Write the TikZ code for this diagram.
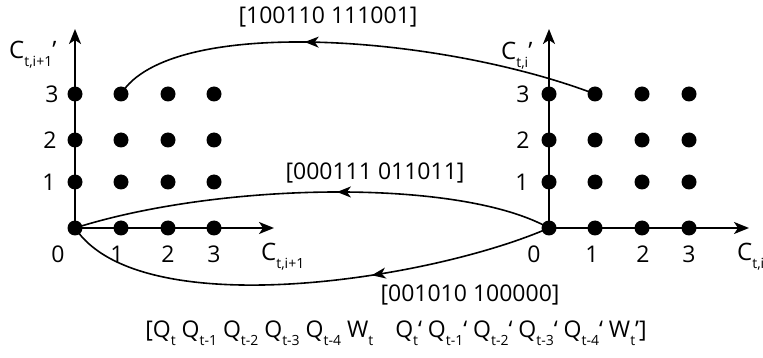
\documentclass[tikz,border=0pt]{standalone}
\usepackage{fontspec}
\setmainfont{Open Sans}
\usetikzlibrary{arrows.meta,decorations.markings}

% lowered small index used in the variable names
\newcommand\lo[1]{\raisebox{-7.5pt}{\fontsize{14}{14}\selectfont #1}}

\begin{document}
\begin{tikzpicture}[x=1pt,y=-1pt,
  dot/.style={circle,fill=black,inner sep=0pt,minimum size=15pt},
  axis/.style={line width=2pt,-{Stealth[length=15pt,width=12pt,inset=4pt]}},
  conn/.style={line width=1.6pt},
  midarrow/.style={postaction={decorate},
    decoration={markings,mark=at position #1 with {\arrow{Stealth[length=14pt,width=11pt,inset=4pt]}}}},
  tick/.style={font=\fontsize{23}{23}\selectfont},
  code/.style={font=\fontsize{23}{23}\selectfont},
  lbl/.style={font=\fontsize{24}{24}\selectfont,anchor=base west,inner sep=0pt},
  ]
\useasboundingbox (0,0) rectangle (763,358);

% lattice points of both grids
\foreach \i/\x in {0/75,1/121,2/168,3/214}
  \foreach \j/\y in {0/228,1/182,2/140,3/94}
    \node[dot] (L\i\j) at (\x,\y) {};
\foreach \i/\x in {0/549,1/595,2/642,3/689}
  \foreach \j/\y in {0/228,1/182,2/140,3/94}
    \node[dot] (R\i\j) at (\x,\y) {};

% axis ends
\coordinate (LYtop) at (75,29);
\coordinate (LXend) at (274,228);
\coordinate (RYtop) at (549,29);
\coordinate (RXend) at (749,228);

\draw[axis] (L00.center) -- (LYtop);
\draw[axis] (L00.center) -- (LXend);
\draw[axis] (R00.center) -- (RYtop);
\draw[axis] (R00.center) -- (RXend);

% tick labels
\node[tick] (lt3) at (52,94) {3};
\node[tick] (lt2) at (50,140) {2};
\node[tick] (lt1) at (49,182) {1};
\node[tick] (lb0) at (58,254) {0};
\node[tick] (lb1) at (117,254) {1};
\node[tick] (lb2) at (168,254) {2};
\node[tick] (lb3) at (214,254) {3};
\node[tick] (rt3) at (523,94) {3};
\node[tick] (rt2) at (523,140) {2};
\node[tick] (rt1) at (522,182) {1};
\node[tick] (rb0) at (534,254) {0};
\node[tick] (rb1) at (592,254) {1};
\node[tick] (rb2) at (643,254) {2};
\node[tick] (rb3) at (689,254) {3};

% axis names
\node[lbl] (ly) at (9,59) {C\lo{t,i+1}’};
\node[lbl] (ry) at (501,60) {C\lo{t,i}’};
\node[lbl] (lx) at (261,261) {C\lo{t,i+1}};
\node[lbl] (rx) at (737,261) {C\lo{t,i}};

% transitions between the two grids
\draw[conn,midarrow=0.6] (R13.center) .. controls (440,35) and (170,15) .. (L13.center);
\draw[conn,midarrow=0.45] (R00.center) .. controls (460,178) and (220,182) .. (L00.center);
\draw[conn,midarrow=0.37] (R00.center) .. controls (430,280) and (140,325) .. (L00.center);

% bit strings
\node[code] (c1) at (328,17) {[100110 111001]};
\node[code] (c2) at (375,173) {[000111 011011]};
\node[code] (c3) at (470,295) {[001010 100000]};

% state vector
\node[code] (vec) at (396,333) {[Q\lo{t} Q\lo{t-1} Q\lo{t-2} Q\lo{t-3} Q\lo{t-4} W\lo{t}\hspace{22pt}Q\lo{t}‘ Q\lo{t-1}‘ Q\lo{t-2}‘ Q\lo{t-3}‘ Q\lo{t-4}‘ W\lo{t}’]};
\end{tikzpicture}
\end{document}
